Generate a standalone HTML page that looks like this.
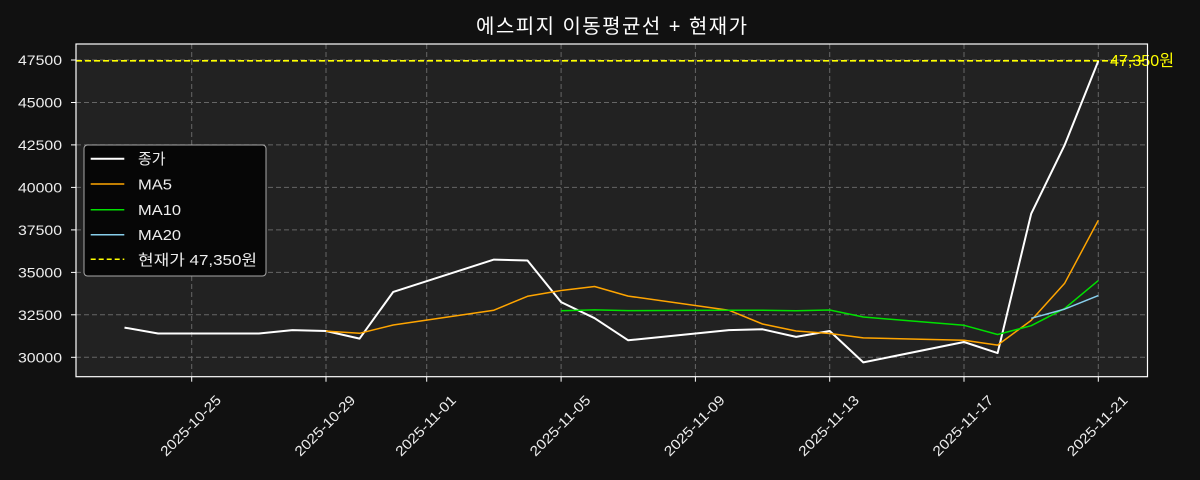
<!DOCTYPE html>
<html>
<head>
<meta charset="utf-8">
<style>
html,body{margin:0;padding:0;background:#111111;}
svg{display:block;}
text{font-family:"Liberation Sans","Noto Sans CJK KR",sans-serif;}
</style>
</head>
<body>
<svg width="1200" height="480" viewBox="0 0 1200 480" xmlns="http://www.w3.org/2000/svg">
<rect x="0" y="0" width="1200" height="480" fill="#111111"/>
<!-- axes background -->
<rect x="76" y="44" width="1071.5" height="332.7" fill="#222222"/>

<!-- grid -->
<g stroke="#666666" stroke-width="1" stroke-dasharray="5 3" fill="none">
  <line x1="191.7" y1="44" x2="191.7" y2="376.7"/>
  <line x1="326.0" y1="44" x2="326.0" y2="376.7"/>
  <line x1="426.7" y1="44" x2="426.7" y2="376.7"/>
  <line x1="561.1" y1="44" x2="561.1" y2="376.7"/>
  <line x1="695.4" y1="44" x2="695.4" y2="376.7"/>
  <line x1="829.7" y1="44" x2="829.7" y2="376.7"/>
  <line x1="964.0" y1="44" x2="964.0" y2="376.7"/>
  <line x1="1098.3" y1="44" x2="1098.3" y2="376.7"/>
  <line x1="76" y1="357.3" x2="1147.5" y2="357.3"/>
  <line x1="76" y1="314.8" x2="1147.5" y2="314.8"/>
  <line x1="76" y1="272.4" x2="1147.5" y2="272.4"/>
  <line x1="76" y1="229.9" x2="1147.5" y2="229.9"/>
  <line x1="76" y1="187.4" x2="1147.5" y2="187.4"/>
  <line x1="76" y1="144.9" x2="1147.5" y2="144.9"/>
  <line x1="76" y1="102.5" x2="1147.5" y2="102.5"/>
  <line x1="76" y1="60.0" x2="1147.5" y2="60.0"/>
</g>

<!-- current price line -->
<line x1="76" y1="60.8" x2="1147.5" y2="60.8" stroke="#ffff00" stroke-width="1.6" stroke-dasharray="6 3"/>

<!-- close -->
<polyline fill="none" stroke="#ffffff" stroke-width="2" stroke-linejoin="round"
 points="124.5,327.6 158.1,333.5 258.9,333.5 292.4,330.1 326.0,331.0 359.6,338.6 393.2,291.9 493.9,259.6 527.5,260.5 561.1,302.1 594.6,318.2 628.2,340.3 728.9,330.1 762.5,329.3 796.1,336.9 829.7,331.0 863.3,362.4 964.0,342.0 997.6,353.1 1031.2,213.7 1064.7,144.9 1098.3,61.0"/>
<!-- MA5 -->
<polyline fill="none" stroke="#ffa500" stroke-width="1.5" stroke-linejoin="round"
 points="326.0,331.1 359.6,333.3 393.2,325.0 493.9,310.2 527.5,296.3 561.1,290.5 594.6,286.5 628.2,296.1 728.9,310.2 762.5,324.0 796.1,331.0 829.7,333.5 863.3,337.9 964.0,340.3 997.6,345.1 1031.2,320.4 1064.7,283.2 1098.3,220.3"/>
<!-- MA10 -->
<polyline fill="none" stroke="#00e000" stroke-width="1.5" stroke-linejoin="round"
 points="561.1,310.8 594.6,309.9 628.2,310.6 728.9,310.2 762.5,310.2 796.1,310.8 829.7,310.0 863.3,317.0 964.0,325.3 997.6,334.5 1031.2,325.7 1064.7,308.4 1098.3,280.6"/>
<!-- MA20 -->
<polyline fill="none" stroke="#87ceeb" stroke-width="1.5" stroke-linejoin="round"
 points="1031.2,318.3 1064.7,309.1 1098.3,295.6"/>

<!-- annotation -->
<text x="1110" y="66" font-size="16" fill="#ffff00" textLength="64" lengthAdjust="spacingAndGlyphs">47,350원</text>

<!-- spines -->
<rect x="76" y="44" width="1071.5" height="332.7" fill="none" stroke="#ffffff" stroke-width="1.2"/>

<!-- y ticks -->
<g stroke="#ffffff" stroke-width="1">
  <line x1="71" y1="357.3" x2="76" y2="357.3"/>
  <line x1="71" y1="314.8" x2="76" y2="314.8"/>
  <line x1="71" y1="272.4" x2="76" y2="272.4"/>
  <line x1="71" y1="229.9" x2="76" y2="229.9"/>
  <line x1="71" y1="187.4" x2="76" y2="187.4"/>
  <line x1="71" y1="144.9" x2="76" y2="144.9"/>
  <line x1="71" y1="102.5" x2="76" y2="102.5"/>
  <line x1="71" y1="60.0" x2="76" y2="60.0"/>
</g>
<g font-size="14" fill="#eeeeee" text-anchor="end">
  <text x="62" y="362.3" textLength="44" lengthAdjust="spacingAndGlyphs">30000</text>
  <text x="62" y="319.8" textLength="44" lengthAdjust="spacingAndGlyphs">32500</text>
  <text x="62" y="277.4" textLength="44" lengthAdjust="spacingAndGlyphs">35000</text>
  <text x="62" y="234.9" textLength="44" lengthAdjust="spacingAndGlyphs">37500</text>
  <text x="62" y="192.4" textLength="44" lengthAdjust="spacingAndGlyphs">40000</text>
  <text x="62" y="149.9" textLength="44" lengthAdjust="spacingAndGlyphs">42500</text>
  <text x="62" y="107.5" textLength="44" lengthAdjust="spacingAndGlyphs">45000</text>
  <text x="62" y="65.0" textLength="44" lengthAdjust="spacingAndGlyphs">47500</text>
</g>

<!-- x ticks -->
<g stroke="#ffffff" stroke-width="1">
  <line x1="191.7" y1="376.7" x2="191.7" y2="381.7"/>
  <line x1="326.0" y1="376.7" x2="326.0" y2="381.7"/>
  <line x1="426.7" y1="376.7" x2="426.7" y2="381.7"/>
  <line x1="561.1" y1="376.7" x2="561.1" y2="381.7"/>
  <line x1="695.4" y1="376.7" x2="695.4" y2="381.7"/>
  <line x1="829.7" y1="376.7" x2="829.7" y2="381.7"/>
  <line x1="964.0" y1="376.7" x2="964.0" y2="381.7"/>
  <line x1="1098.3" y1="376.7" x2="1098.3" y2="381.7"/>
</g>
<g font-size="14" fill="#eeeeee" text-anchor="middle">
  <text x="190.5" y="430.5" transform="rotate(-45 190.5 425.5)" textLength="79" lengthAdjust="spacingAndGlyphs">2025-10-25</text>
  <text x="324.8" y="430.5" transform="rotate(-45 324.8 425.5)" textLength="79" lengthAdjust="spacingAndGlyphs">2025-10-29</text>
  <text x="425.5" y="430.5" transform="rotate(-45 425.5 425.5)" textLength="79" lengthAdjust="spacingAndGlyphs">2025-11-01</text>
  <text x="559.9" y="430.5" transform="rotate(-45 559.9 425.5)" textLength="79" lengthAdjust="spacingAndGlyphs">2025-11-05</text>
  <text x="694.2" y="430.5" transform="rotate(-45 694.2 425.5)" textLength="79" lengthAdjust="spacingAndGlyphs">2025-11-09</text>
  <text x="828.5" y="430.5" transform="rotate(-45 828.5 425.5)" textLength="79" lengthAdjust="spacingAndGlyphs">2025-11-13</text>
  <text x="962.8" y="430.5" transform="rotate(-45 962.8 425.5)" textLength="79" lengthAdjust="spacingAndGlyphs">2025-11-17</text>
  <text x="1097.1" y="430.5" transform="rotate(-45 1097.1 425.5)" textLength="79" lengthAdjust="spacingAndGlyphs">2025-11-21</text>
</g>

<!-- legend -->
<rect x="84" y="145" width="182" height="131" rx="3.5" ry="3.5" fill="#060606" stroke="#a8a8a8" stroke-width="1"/>
<line x1="90.7" y1="158.7" x2="124.3" y2="158.7" stroke="#ffffff" stroke-width="2"/>
<line x1="90.7" y1="184.0" x2="124.3" y2="184.0" stroke="#ffa500" stroke-width="1.5"/>
<line x1="90.7" y1="209.7" x2="124.3" y2="209.7" stroke="#00e000" stroke-width="1.5"/>
<line x1="90.7" y1="234.7" x2="124.3" y2="234.7" stroke="#87ceeb" stroke-width="1.5"/>
<line x1="90.7" y1="259.3" x2="124.3" y2="259.3" stroke="#ffff00" stroke-width="1.5" stroke-dasharray="5 3"/>
<g font-size="15" fill="#eeeeee">
  <text x="138" y="164">종가</text>
  <text x="138" y="189.5" textLength="34" lengthAdjust="spacingAndGlyphs">MA5</text>
  <text x="138" y="215" textLength="43" lengthAdjust="spacingAndGlyphs">MA10</text>
  <text x="138" y="240" textLength="43" lengthAdjust="spacingAndGlyphs">MA20</text>
  <text x="138" y="265" textLength="119" lengthAdjust="spacingAndGlyphs">현재가 47,350원</text>
</g>

<!-- title -->
<text x="476" y="33" font-size="20" fill="#ffffff" textLength="271" lengthAdjust="spacing">에스피지 이동평균선 + 현재가</text>
</svg>
</body>
</html>
